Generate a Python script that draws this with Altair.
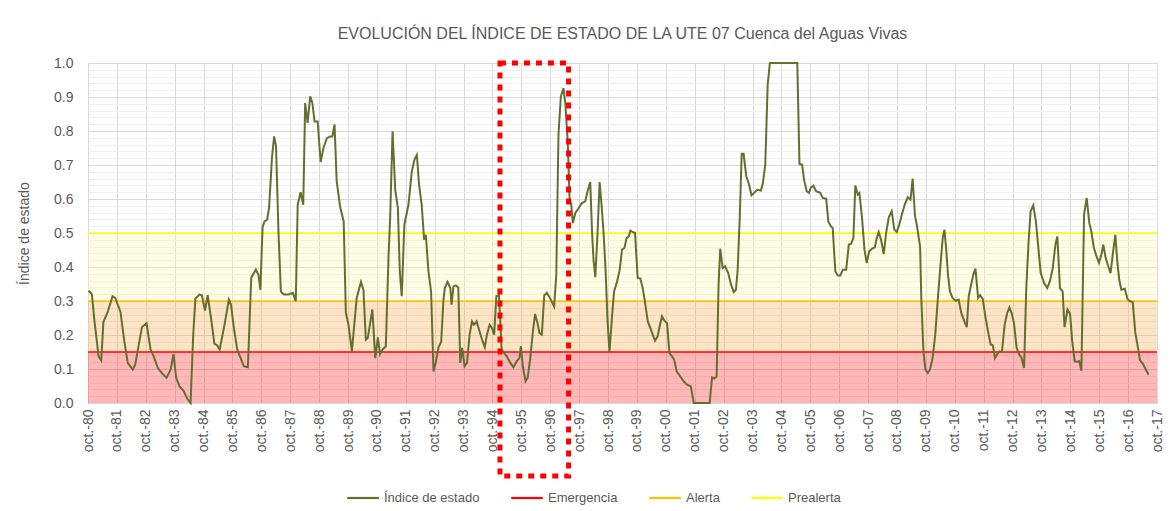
import altair as alt
import pandas as pd

# months elapsed since October 1980, and the state index
months = [
    0.2, 1.6, 2.7, 4.4, 5.5, 6.4, 8.2, 10.2, 11.3, 13.5, 14.9, 16.5, 18.6, 19.6, 22.4, 24.3,
    26.0, 27.3, 29.0, 30.7, 32.6, 34.3, 35.5, 36.6, 38.0, 39.7, 41.2, 42.6, 43.7, 44.6, 46.3,
    47.3, 48.6, 49.7, 51.1, 52.5, 53.6, 54.7, 56.7, 58.5, 59.4, 60.6, 62.0, 63.3, 64.7, 66.4,
    67.8, 69.7, 70.8, 71.6, 72.5, 73.3, 74.4, 75.2, 76.4, 77.3, 78.1, 79.1, 80.1, 81.3, 83.3,
    85.1, 86.3, 87.1, 88.3, 89.4, 90.2, 91.2, 92.3, 93.2, 94.1, 95.4, 96.6, 97.8, 99.2, 100.6,
    101.5, 102.4, 103.3, 104.7, 106.2, 107.1, 108.2, 109.6, 111.6, 113.4, 114.4, 115.4, 116.2,
    118.1, 119.3, 120.4, 121.3, 122.3, 123.7, 124.8, 125.5, 126.5, 127.6, 128.7, 129.5, 130.3,
    131.4, 133.1, 134.5, 135.6, 136.6, 137.5, 138.6, 139.6, 140.3, 141.4, 142.5, 143.5, 144.4,
    145.6, 146.7, 147.6, 148.2, 149.3, 150.5, 151.0, 151.8, 152.8, 153.8, 154.6, 155.4, 156.4,
    157.4, 158.5, 159.5, 160.3, 161.4, 162.6, 163.7, 164.8, 165.7, 166.8, 167.8, 168.7, 169.6,
    170.7, 171.8, 172.9, 174.0, 175.4, 176.7, 178.1, 179.2, 179.8, 180.6, 181.7, 182.6, 183.7,
    184.8, 185.7, 186.7, 187.5, 188.5, 189.5, 190.6, 192.0, 193.6, 194.5, 195.4, 196.4, 197.5,
    198.3, 199.3, 200.0, 200.7, 201.4, 202.4, 203.7, 205.1, 206.5, 207.5, 208.6, 209.4, 210.0,
    210.7, 211.6, 212.5, 213.3, 214.1, 215.0, 215.8, 216.6, 217.6, 218.5, 219.7, 220.8, 221.8,
    222.8, 223.7, 224.6, 225.3, 226.2, 227.2, 228.3, 229.4, 230.4, 231.3, 232.5, 233.8, 235.5,
    236.6, 237.4, 238.4, 239.4, 240.5, 241.5, 242.6, 243.5, 244.5, 246.0, 247.4, 248.8, 250.4,
    251.6, 254.6, 258.2, 259.2, 260.1, 261.1, 261.9, 262.6, 263.6, 264.6, 265.9, 267.1, 268.2,
    269.1, 269.8, 270.7, 271.5, 272.3, 273.4, 274.4, 275.6, 276.7, 277.9, 279.5, 280.3, 281.3,
    282.3, 283.2, 289.2, 294.6, 295.5, 296.6, 297.4, 298.5, 299.4, 300.3, 301.3, 302.4, 304.1,
    305.2, 306.6, 307.5, 308.5, 309.3, 310.4, 311.4, 312.5, 313.5, 314.9, 316.0, 316.9, 317.9,
    318.7, 319.7, 320.4, 321.5, 322.5, 323.4, 324.5, 325.7, 326.8, 327.6, 328.4, 329.4, 330.5,
    331.5, 332.6, 333.8, 334.9, 335.9, 337.0, 338.1, 339.2, 340.5, 341.6, 342.5, 343.5, 344.2,
    345.6, 346.1, 347.0, 347.8, 348.8, 349.7, 350.8, 351.9, 353.0, 354.3, 355.0, 355.7, 356.4,
    357.2, 358.0, 359.1, 360.3, 361.6, 362.7, 364.0, 365.0, 365.8, 366.8, 367.7, 368.6, 369.7,
    370.5, 371.6, 372.7, 373.8, 374.9, 375.8, 376.7, 377.7, 378.5, 379.6, 380.7, 381.8, 382.7,
    383.6, 384.6, 385.7, 386.8, 387.7, 388.8, 389.7, 390.6, 391.5, 392.6, 393.7, 394.6, 395.7,
    397.1, 398.4, 399.6, 400.7, 401.8, 402.6, 403.7, 404.8, 405.6, 406.8, 407.9, 408.8, 409.8,
    410.9, 411.7, 412.6, 413.7, 414.8, 415.9, 416.7, 417.8, 418.9, 419.9, 420.9, 421.7, 422.7,
    423.6, 424.7, 425.6, 426.7, 427.5, 428.3, 429.2, 430.6, 431.7, 432.8, 433.9, 435.0, 436.1,
    436.9, 438.3, 439.4, 440.5,
]
index_values = [
    0.33, 0.32, 0.24, 0.137, 0.125, 0.238, 0.268, 0.314, 0.309, 0.268, 0.191, 0.118, 0.098, 0.113, 0.223, 0.235,
    0.157, 0.137, 0.103, 0.088, 0.074, 0.098, 0.144, 0.075, 0.049, 0.036, 0.013, 0.0, 0.20, 0.307, 0.319,
    0.317, 0.272, 0.317, 0.25, 0.174, 0.17, 0.157, 0.23, 0.304, 0.289, 0.22, 0.157, 0.134, 0.108, 0.105,
    0.368, 0.392, 0.377, 0.333, 0.517, 0.534, 0.539, 0.574, 0.72, 0.784, 0.755, 0.505, 0.328, 0.319, 0.319,
    0.324, 0.299, 0.583, 0.62, 0.583, 0.882, 0.824, 0.902, 0.882, 0.828, 0.828, 0.709, 0.75, 0.779, 0.784,
    0.784, 0.819, 0.652, 0.578, 0.534, 0.265, 0.23, 0.152, 0.309, 0.356, 0.333, 0.186, 0.191,
    0.275, 0.132, 0.193, 0.144, 0.157, 0.167, 0.426, 0.544, 0.799, 0.627, 0.574, 0.387, 0.314,
    0.525, 0.583, 0.681, 0.716, 0.730, 0.642, 0.583, 0.48, 0.495, 0.387, 0.328, 0.093, 0.118,
    0.164, 0.18, 0.30, 0.338, 0.356, 0.338, 0.289, 0.343, 0.346, 0.34, 0.118, 0.162, 0.108,
    0.118, 0.201, 0.24, 0.23, 0.24, 0.211, 0.186, 0.164, 0.201, 0.23, 0.22, 0.201, 0.314,
    0.317, 0.157, 0.147, 0.137, 0.118, 0.105, 0.123, 0.132, 0.167, 0.108, 0.064, 0.074, 0.132,
    0.211, 0.262, 0.235, 0.206, 0.201, 0.317, 0.324, 0.307, 0.284, 0.377, 0.789, 0.902, 0.926,
    0.877, 0.76, 0.603, 0.583, 0.529, 0.559, 0.572, 0.588, 0.593, 0.623, 0.65, 0.495, 0.417,
    0.37, 0.495, 0.65, 0.583, 0.505, 0.387, 0.24, 0.15, 0.25, 0.328, 0.356, 0.39, 0.451,
    0.456, 0.485, 0.49, 0.507, 0.503, 0.5, 0.368, 0.366, 0.338, 0.299, 0.24, 0.216, 0.183,
    0.196, 0.225, 0.255, 0.242, 0.235, 0.147, 0.137, 0.127, 0.093, 0.078, 0.064, 0.054, 0.049,
    0.0, 0.0, 0.0, 0.075, 0.072, 0.078, 0.348, 0.454, 0.397, 0.402, 0.382, 0.348, 0.326,
    0.333, 0.387, 0.544, 0.733, 0.733, 0.667, 0.647, 0.611, 0.618, 0.627, 0.625, 0.647, 0.701,
    0.936, 1.0, 1.0, 1.0, 0.703, 0.701, 0.657, 0.623, 0.618, 0.634, 0.639, 0.623, 0.618,
    0.603, 0.601, 0.534, 0.52, 0.515, 0.387, 0.375, 0.375, 0.392, 0.392, 0.466, 0.468, 0.485,
    0.64, 0.613, 0.618, 0.544, 0.451, 0.412, 0.446, 0.454, 0.458, 0.485, 0.503, 0.48, 0.438,
    0.5, 0.546, 0.564, 0.51, 0.503, 0.526, 0.556, 0.583, 0.605, 0.598, 0.66, 0.549, 0.525,
    0.461, 0.309, 0.152, 0.098, 0.088, 0.098, 0.132, 0.201, 0.309, 0.426, 0.485, 0.51, 0.456,
    0.377, 0.328, 0.309, 0.301, 0.304, 0.265, 0.24, 0.223, 0.314, 0.348, 0.377, 0.395, 0.309,
    0.317, 0.307, 0.255, 0.211, 0.172, 0.17, 0.132, 0.144, 0.152, 0.15, 0.23, 0.265, 0.281,
    0.265, 0.235, 0.162, 0.142, 0.134, 0.103, 0.338, 0.466, 0.564, 0.581, 0.534, 0.466, 0.382,
    0.353, 0.338, 0.36, 0.397, 0.466, 0.49, 0.338, 0.328, 0.223, 0.275, 0.262, 0.181, 0.123,
    0.121, 0.123, 0.095, 0.554, 0.603, 0.529, 0.505, 0.456, 0.431, 0.412, 0.436, 0.466, 0.426,
    0.405, 0.382, 0.436, 0.495, 0.417, 0.363, 0.333, 0.336, 0.307, 0.299, 0.297, 0.206, 0.162,
    0.127, 0.113, 0.098, 0.083,
]

series_names = ["Índice de estado", "Emergencia", "Alerta", "Prealerta"]
series_colors = ["#617030", "#FF0000", "#FFC000", "#FFFF00"]

threshold_names = ["Emergencia", "Alerta", "Prealerta"]
threshold_values = [0.15, 0.30, 0.50]

band_low = [0.0, 0.15, 0.30]
band_high = [0.15, 0.30, 0.50]
band_colors = ["#FF0F0F", "#F5A53A", "#FFF8AC"]

year_ticks = list(range(0, 445, 12))
major_y = [0.0, 0.1, 0.2, 0.3, 0.4, 0.5, 0.6, 0.7, 0.8, 0.9, 1.0]
minor_y = [round(k * 0.02, 2) for k in range(51) if k % 5]

box_start, box_end = 171.1, 199.6
box_top, box_bottom = 1.0, -0.215

title_text = "EVOLUCIÓN DEL ÍNDICE DE ESTADO DE LA UTE 07 Cuenca del Aguas Vivas"
FONT = "Liberation Sans"
GREY = "#595959"

series_df = pd.DataFrame({"m": months, "v": index_values, "s": series_names[0]})
thr_df = pd.DataFrame({"v": threshold_values, "s": threshold_names})
band_df = pd.DataFrame({"lo": band_low, "hi": band_high, "c": band_colors})
box_df = pd.DataFrame({"x1": [box_start], "x2": [box_end], "y1": [box_top], "y2": [box_bottom]})

yscale = alt.Scale(domain=[0, 1], nice=False, zero=False)
xscale = alt.Scale(domain=[0, 444], nice=False, zero=False)
color_scale = alt.Scale(domain=series_names, range=series_colors)

legend = alt.Legend(orient="none", legendX=258, legendY=418, direction="horizontal",
                    columns=4, title=None, symbolType="stroke", symbolSize=1000,
                    symbolStrokeWidth=2.2, symbolOpacity=1, labelFontSize=13, labelFont=FONT,
                    labelColor=GREY, columnPadding=26, labelOffset=4)

x_axis = alt.Axis(values=year_ticks, grid=True, gridColor="#D9D9D9", ticks=False,
                  domainColor="#D9D9D9", labelAngle=-90, labelFontSize=14,
                  labelPadding=6, labelColor=GREY, labelFont=FONT, labelOverlap=False,
                  labelExpr="'oct.-' + slice('0' + toString((80 + round(datum.value / 12)) % 100), -2)")

bands = alt.Chart(band_df).mark_rect(fillOpacity=0.3, strokeWidth=0).encode(
    y=alt.Y("lo:Q", scale=yscale,
            axis=alt.Axis(values=minor_y, grid=True, gridColor="#EFEFEF", labels=False,
                          ticks=False, domain=False, title=None, orient="right")),
    y2="hi:Q",
    fill=alt.Fill("c:N", scale=None),
)

rules = alt.Chart(thr_df).mark_rule(strokeWidth=1.6).encode(
    y=alt.Y("v:Q", scale=yscale, axis=None),
    color=alt.Color("s:N", scale=color_scale, legend=legend),
)

line = alt.Chart(series_df).mark_line(strokeWidth=2).encode(
    x=alt.X("m:Q", scale=xscale, title=None, axis=x_axis),
    y=alt.Y("v:Q", scale=yscale, title="Índice de estado",
            axis=alt.Axis(values=major_y, format=".1f", grid=True, gridColor="#D9D9D9",
                          ticks=False, domain=False, labelFontSize=14, labelPadding=15,
                          labelColor=GREY, labelFont=FONT, titleFont=FONT, titleFontSize=14,
                          titleFontWeight="normal", titleColor=GREY, titlePadding=22)),
    color=alt.Color("s:N", scale=color_scale, legend=legend),
)

box = alt.Chart(box_df).mark_rect(fillOpacity=0, stroke="#FF0000", strokeWidth=5,
                                  strokeDash=[6, 6], strokeCap="butt").encode(
    x=alt.X("x1:Q", scale=xscale, title=None, axis=x_axis), x2="x2:Q",
    y=alt.Y("y1:Q", scale=yscale, axis=None), y2="y2:Q",
)

chart = alt.layer(bands, rules, line, box).resolve_axis(y="independent").properties(
    width=1069, height=340,
    autosize=alt.AutoSizeParams(type="none"),
    padding={"left": 80, "top": 55, "right": 7, "bottom": 106},
    title=alt.Title(title_text, font=FONT, fontSize=16, fontWeight="normal", color=GREY,
                    anchor="middle", frame="group", offset=14),
).configure_view(strokeWidth=0).configure(background="white")

chart.save("out.html", embed_options={"renderer": "svg", "actions": False})
